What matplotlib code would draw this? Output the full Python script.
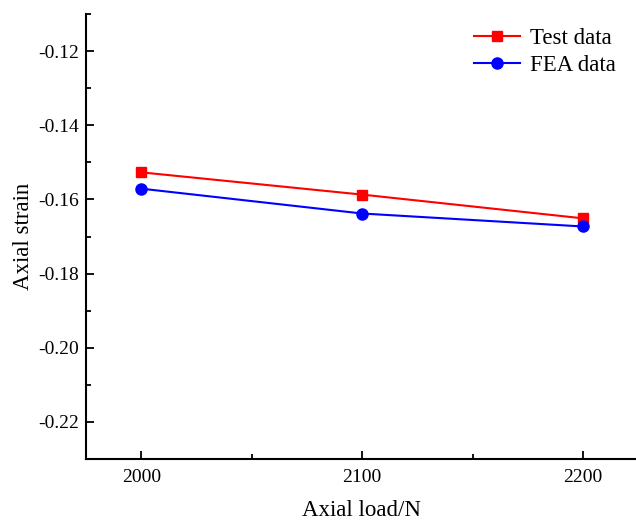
#!/usr/bin/env python3
import matplotlib
matplotlib.use("Agg")
import matplotlib.pyplot as plt
from matplotlib.ticker import MultipleLocator

# values
load = [2000, 2100, 2200]
test_strain = [-0.1527, -0.1587, -0.1651]
fea_strain = [-0.1571, -0.1638, -0.1673]

plt.rcParams['font.family'] = ['Liberation Serif', 'DejaVu Serif']

fig = plt.figure(figsize=(6.36, 5.2), dpi=100)
ax = fig.add_axes([86/636, 61/520, 550/636, 445/520])

ax.plot(load, test_strain, color='#ff0000', marker='s', markersize=7, lw=1.5, label='Test data')
ax.plot(load, fea_strain, color='#0000ff', marker='o', markersize=8, lw=1.5, label='FEA data')

ax.set_xlim(1975, 2224)
ax.set_ylim(-0.23, -0.11)
ax.xaxis.set_major_locator(MultipleLocator(100))
ax.xaxis.set_minor_locator(MultipleLocator(50))
ax.yaxis.set_major_locator(MultipleLocator(0.02))
ax.yaxis.set_minor_locator(MultipleLocator(0.01))
ax.yaxis.set_major_formatter(plt.FuncFormatter(lambda v, p: "%.2f" % v))

for s in ['top', 'right']:
	ax.spines[s].set_visible(False)
for s in ['left', 'bottom']:
	ax.spines[s].set_linewidth(1.5)

ax.tick_params(which='both', direction='in', width=1.3, labelsize=14)
ax.tick_params(which='major', length=6)
ax.tick_params(which='minor', length=3.5)
ax.tick_params(axis='x', pad=7)
ax.tick_params(axis='y', pad=5)

ax.set_xlabel('Axial load/N', fontsize=16.5, labelpad=10)
ax.set_ylabel('Axial strain', fontsize=16.5, labelpad=3)

ax.legend(loc='upper right', frameon=False, fontsize=16.5, handlelength=2.0,
	handletextpad=0.4, labelspacing=0.25, bbox_to_anchor=(1.0, 1.015))

fig.savefig('out.png', dpi=100)
